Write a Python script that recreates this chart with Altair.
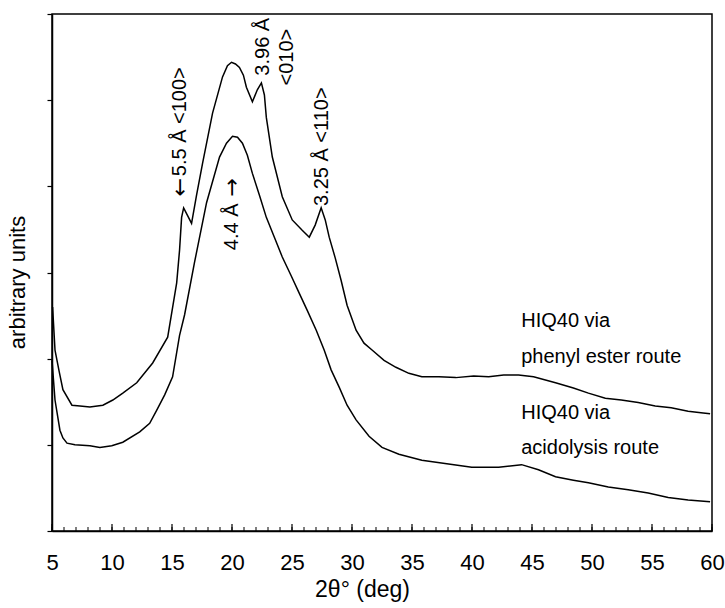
import altair as alt
import pandas as pd

# ---- data ----
phenyl_x = [5.05, 5.25, 5.6, 5.91, 6.66, 7.33, 8.16, 9.24, 10.07, 10.90, 12.06, 13.39, 14.64,
            15.39, 15.63, 15.80, 15.97, 16.30, 16.63, 17.05, 17.55, 18.38, 19.21, 19.62, 19.96,
            20.29, 20.62, 20.95, 21.20, 21.70, 22.11, 22.45, 22.70, 22.86, 23.36, 24.19, 25.02,
            25.85, 26.44, 26.93, 27.43, 27.77, 28.10, 28.60, 29.09, 29.59, 30.34, 31.0, 31.67,
            32.67, 33.66, 34.74, 35.82, 37.24, 38.65, 40.14, 41.39, 42.64, 43.88, 45.13, 46.96,
            48.45, 49.70, 51.11, 52.44, 53.85, 55.27, 56.60, 58.01, 59.26, 59.84]
phenyl_y = [2.60, 2.10, 1.85, 1.64, 1.46, 1.45, 1.44, 1.46, 1.52, 1.60, 1.72, 1.95, 2.25,
            2.88, 3.26, 3.64, 3.75, 3.66, 3.57, 3.90, 4.27, 4.85, 5.27, 5.40, 5.44,
            5.42, 5.38, 5.29, 5.15, 4.98, 5.12, 5.20, 5.06, 4.80, 4.34, 3.88, 3.61,
            3.49, 3.41, 3.55, 3.75, 3.61, 3.41, 3.17, 2.91, 2.62, 2.33, 2.18, 2.10,
            1.98, 1.90, 1.83, 1.79, 1.79, 1.78, 1.80, 1.79, 1.81, 1.81, 1.79, 1.72,
            1.66, 1.60, 1.54, 1.52, 1.49, 1.45, 1.43, 1.39, 1.37, 1.36]

acid_x = [5.0, 5.25, 5.66, 5.91, 6.25, 6.91, 8.16, 8.99, 9.98, 10.90, 12.31, 13.14, 13.72,
          14.39, 15.05, 15.63, 16.05, 16.88, 17.88, 18.96, 19.54, 20.04, 20.46, 20.87, 21.28,
          21.70, 22.28, 22.86, 23.53, 24.19, 24.94, 25.60, 26.27, 27.02, 27.68, 28.26, 28.93,
          29.59, 30.34, 31.42, 32.50, 33.91, 35.82, 37.90, 39.98, 42.22, 44.13, 45.54, 46.96,
          48.45, 49.70, 51.36, 53.02, 54.68, 56.35, 58.01, 59.84]
acid_y = [1.98, 1.52, 1.17, 1.08, 1.02, 1.00, 0.99, 0.97, 0.99, 1.03, 1.15, 1.25, 1.40,
          1.58, 1.79, 2.27, 2.51, 3.12, 3.81, 4.34, 4.50, 4.58, 4.57, 4.50, 4.36,
          4.15, 3.90, 3.64, 3.41, 3.18, 2.96, 2.76, 2.56, 2.33, 2.10, 1.87, 1.67,
          1.46, 1.29, 1.10, 0.97, 0.89, 0.82, 0.78, 0.74, 0.74, 0.77, 0.71, 0.63,
          0.59, 0.56, 0.51, 0.48, 0.44, 0.39, 0.36, 0.34]

x_major = [5, 10, 15, 20, 25, 30, 35, 40, 45, 50, 55, 60]
x_minor = list(range(5, 61))
y_ticks = [0, 1, 2, 3, 4, 5, 6]

peak_labels = ["5.5 \u00c5 <100>", "4.4 \u00c5", "3.96 \u00c5", "<010>", "3.25 \u00c5 <110>"]
peak_x = [15.63, 20.04, 22.55, 24.55, 27.52]
peak_y = [4.75, 3.53, 5.62, 5.50, 4.46]

arrow_labels = ["\u2190", "\u2192"]
arrow_x = [15.63, 20.04]
arrow_y = [3.99, 3.99]

route_labels = ["HIQ40 via", "phenyl ester route", "HIQ40 via", "acidolysis route"]
route_x = [44.1, 44.1, 44.1, 44.1]
route_y = [2.44, 2.02, 1.37, 0.96]

# ---- tables ----
lines = pd.concat([
    pd.DataFrame({"x": phenyl_x, "y": phenyl_y, "s": "phenyl ester route"}),
    pd.DataFrame({"x": acid_x, "y": acid_y, "s": "acidolysis route"}),
])
minor_df = pd.DataFrame({"x": x_minor})
major_df = pd.DataFrame({"x": x_major})
peaks_df = pd.DataFrame({"t": peak_labels, "x": peak_x, "y": peak_y})
arrows_df = pd.DataFrame({"t": arrow_labels, "x": arrow_x, "y": arrow_y})
routes_df = pd.DataFrame({"t": route_labels, "x": route_x, "y": route_y})

W, H = 660, 517
FONT = "Liberation Sans"

xscale = alt.Scale(domain=[5, 60], nice=False, zero=False)
yscale = alt.Scale(domain=[0, 6], nice=False, zero=False)

xaxis = alt.Axis(values=x_major, grid=False, ticks=False, labelFontSize=22, labelPadding=21,
                 labelFlush=False, labelFont=FONT, labelColor="black", title="2\u03b8\u00b0 (deg)",
                 titleFont=FONT, titleFontSize=23, titleFontWeight="normal", titleColor="black",
                 titlePadding=5, titleX=310, titleAlign="center", domainColor="black", domainWidth=1.5)
yaxis = alt.Axis(values=y_ticks, grid=False, labels=False, tickSize=5, tickColor="black",
                 tickWidth=1.2, title="arbitrary units", titleFont=FONT, titleFontSize=22,
                 titleFontWeight="normal", titleColor="black", titleAngle=270, titleX=-35,
                 titleY=268, titleAlign="center", titleBaseline="middle",
                 domainColor="black", domainWidth=1.5)

curves = alt.Chart(lines).mark_line(color="black", strokeWidth=1.5).encode(
    x=alt.X("x:Q", scale=xscale, axis=xaxis),
    y=alt.Y("y:Q", scale=yscale, axis=yaxis),
    detail="s:N",
)

minor = alt.Chart(minor_df).mark_rule(color="black", strokeWidth=1).encode(
    x=alt.X("x:Q", scale=xscale), y=alt.value(H), y2=alt.value(H - 4))
major = alt.Chart(major_df).mark_rule(color="black", strokeWidth=1.2).encode(
    x=alt.X("x:Q", scale=xscale), y=alt.value(H), y2=alt.value(H - 7))

peaks = alt.Chart(peaks_df).mark_text(angle=270, align="center", baseline="middle",
                                      font=FONT, fontSize=20, color="black").encode(
    x=alt.X("x:Q", scale=xscale), y=alt.Y("y:Q", scale=yscale), text="t:N")

arrows = alt.Chart(arrows_df).mark_text(angle=270, align="center", baseline="middle",
                                        font="DejaVu Sans", fontSize=22, color="black").encode(
    x=alt.X("x:Q", scale=xscale), y=alt.Y("y:Q", scale=yscale), text="t:N")

routes = alt.Chart(routes_df).mark_text(align="left", baseline="middle",
                                        font=FONT, fontSize=20, color="black").encode(
    x=alt.X("x:Q", scale=xscale), y=alt.Y("y:Q", scale=yscale), text="t:N")

chart = alt.layer(curves, minor, major, peaks, arrows, routes).properties(
    width=W, height=H, autosize="none",
    padding={"left": 52, "top": 14, "right": 13, "bottom": 77},
    background="white",
).configure_view(stroke="black", strokeWidth=1.5)

chart.save("out.html", embed_options={"renderer": "svg", "actions": False})
